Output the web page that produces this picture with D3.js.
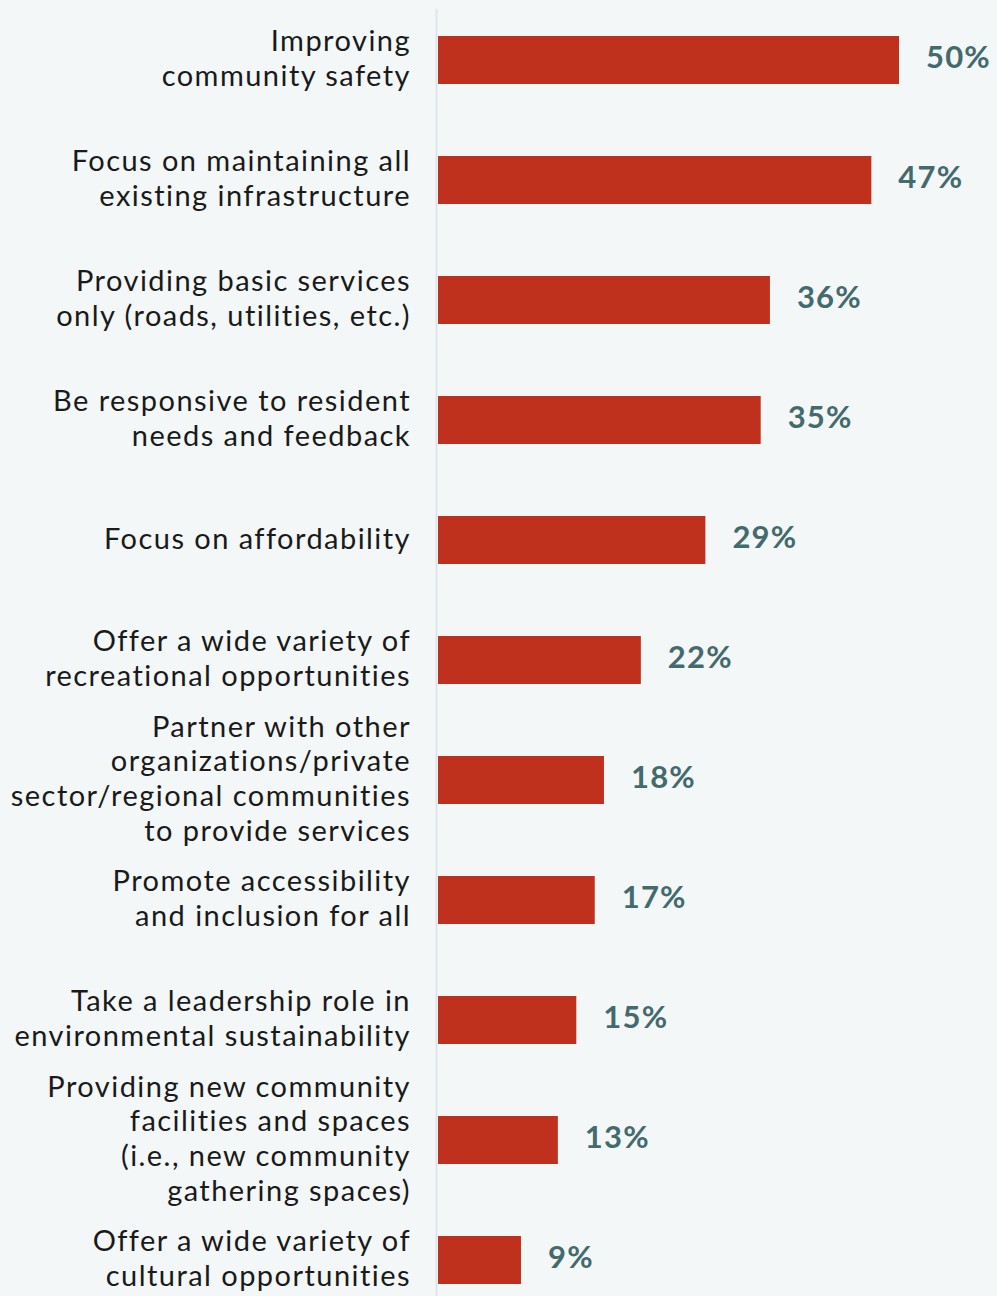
<!DOCTYPE html>
<html>
<head>
<meta charset="utf-8">
<script src="https://cdn.jsdelivr.net/npm/d3@7/dist/d3.min.js"></script>
<style>
  html, body { margin: 0; padding: 0; background: #f3f7f8; }
  svg { display: block; }
</style>
</head>
<body>
<svg id="chart" width="997" height="1296"></svg>
<script>
// Priorities (line breaks mark where each label wraps)
const categories = [
  "Improving\ncommunity safety",
  "Focus on maintaining all\nexisting infrastructure",
  "Providing basic services\nonly (roads, utilities, etc.)",
  "Be responsive to resident\nneeds and feedback",
  "Focus on affordability",
  "Offer a wide variety of\nrecreational opportunities",
  "Partner with other\norganizations/private\nsector/regional communities\nto provide services",
  "Promote accessibility\nand inclusion for all",
  "Take a leadership role in\nenvironmental sustainability",
  "Providing new community\nfacilities and spaces\n(i.e., new community\ngathering spaces)",
  "Offer a wide variety of\ncultural opportunities"
];
const values = [50, 47, 36, 35, 29, 22, 18, 17, 15, 13, 9];

const svg = d3.select("#chart");
const W = 997, H = 1296;

svg.append("rect").attr("width", W).attr("height", H).attr("fill", "#f3f7f8");

const x0 = 438;
const x = d3.scaleLinear().domain([0, 50]).range([x0, 899]);
const y = d3.scaleBand()
  .domain(categories)
  .range([0, 1320])
  .paddingInner(0.6)
  .paddingOuter(0.3);

// baseline rule
svg.append("line")
  .attr("x1", 436.5).attr("x2", 436.5)
  .attr("y1", 9).attr("y2", H)
  .attr("stroke", "#dde7e7").attr("stroke-width", 2);

const data = categories.map((c, i) => ({ c, v: values[i] }));

svg.append("g").selectAll("rect")
  .data(data).join("rect")
  .attr("x", x(0))
  .attr("y", d => y(d.c))
  .attr("width", d => x(d.v) - x(0))
  .attr("height", y.bandwidth())
  .attr("fill", "#bf311d");

// value labels
svg.append("g").selectAll("text")
  .data(data).join("text")
  .attr("x", d => x(d.v) + 27)
  .attr("y", d => y(d.c) + y.bandwidth() / 2)
  .attr("dy", "0.27em")
  .attr("font-family", "Lato, 'Open Sans', sans-serif")
  .attr("font-weight", 700)
  .attr("font-size", 31)
  .attr("letter-spacing", 1.2)
  .attr("fill", "#436a6c")
  .text(d => d.v + "%");

// category labels
const lineH = 34.7;
const labels = svg.append("g")
  .attr("font-family", "Lato, 'Open Sans', sans-serif")
  .attr("font-size", 29)
  .attr("letter-spacing", 1.45)
  .attr("fill", "#1a1a1a")
  .attr("text-anchor", "end");

data.forEach(d => {
  const lines = d.c.split("\n");
  const cy = y(d.c) + y.bandwidth() / 2;
  const t = labels.append("text");
  lines.forEach((ln, j) => {
    t.append("tspan")
      .attr("x", 411)
      .attr("y", cy + (j - (lines.length - 1) / 2) * lineH)
      .attr("dy", "0.3em")
      .text(ln);
  });
});
</script>
</body>
</html>
